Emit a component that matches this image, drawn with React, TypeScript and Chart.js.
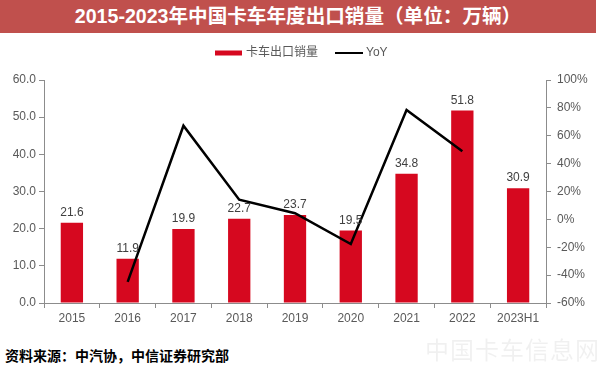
import React, { useEffect, useRef } from "react";
import { Chart, registerables } from "chart.js";

Chart.register(...registerables);

const categories = ["2015", "2016", "2017", "2018", "2019", "2020", "2021", "2022", "2023H1"];
const exportVolume = [21.6, 11.9, 19.9, 22.7, 23.7, 19.5, 34.8, 51.8, 30.9];
const yoy = [null, -44.9, 67.2, 14.1, 4.4, -17.7, 78.5, 48.9, null];
const leftTicks = { min: 0, max: 60, step: 10 };
const rightTicks = { min: -60, max: 100, step: 20 };

const FONT = "'Liberation Sans', Arial, 'Noto Sans CJK SC', sans-serif";
const BAR_COLOR = "#D6081F";
const TICK_COLOR = "#595959";
const AXIS_COLOR = "#8c8c8c";

const labelPlugin = {
  id: "barLabels",
  afterDatasetsDraw(chart: any) {
    const ctx = chart.ctx;
    const meta = chart.getDatasetMeta(0);
    ctx.save();
    ctx.font = `12px ${FONT}`;
    ctx.fillStyle = "#404040";
    ctx.textAlign = "center";
    ctx.textBaseline = "bottom";
    meta.data.forEach((bar: any, i: number) => {
      ctx.fillText(exportVolume[i].toFixed(1), bar.x, bar.y - 4);
    });
    ctx.restore();
  },
};

const legendPlugin = {
  id: "customLegend",
  afterDraw(chart: any) {
    const ctx = chart.ctx;
    ctx.save();
    const y = 20;
    ctx.fillStyle = BAR_COLOR;
    ctx.fillRect(215, y - 2.5, 27, 5);
    ctx.font = `12px ${FONT}`;
    ctx.fillStyle = TICK_COLOR;
    ctx.textBaseline = "middle";
    ctx.textAlign = "left";
    ctx.fillText(chart.data.datasets[0].label, 246, y);
    ctx.strokeStyle = "#000";
    ctx.lineWidth = 2;
    ctx.beginPath();
    ctx.moveTo(335, y);
    ctx.lineTo(363, y);
    ctx.stroke();
    ctx.fillText(chart.data.datasets[1].label, 366, y);
    ctx.restore();
  },
};

export default function App() {
  const ref = useRef<HTMLCanvasElement>(null);

  useEffect(() => {
    if (!ref.current) return;
    const chart = new Chart(ref.current, {
      type: "bar",
      data: {
        labels: categories,
        datasets: [
          {
            type: "bar",
            label: "卡车出口销量",
            data: exportVolume,
            backgroundColor: BAR_COLOR,
            yAxisID: "y",
            barPercentage: 0.8,
            categoryPercentage: 0.5,
            order: 2,
          },
          {
            type: "line",
            label: "YoY",
            data: yoy as any,
            borderColor: "#000",
            backgroundColor: "#000",
            borderWidth: 2.5,
            pointRadius: 0,
            tension: 0,
            yAxisID: "y1",
            order: 1,
          },
        ],
      },
      options: {
        responsive: false,
        animation: false,
        layout: { padding: { top: 47, left: 0, right: 0, bottom: 0 } },
        plugins: {
          legend: { display: false },
          tooltip: { enabled: false },
        },
        scales: {
          x: {
            grid: { display: true, drawOnChartArea: false, drawTicks: true, tickLength: 5, color: AXIS_COLOR, offset: true },
            border: { color: AXIS_COLOR, width: 1 },
            ticks: { color: TICK_COLOR, font: { size: 12, family: FONT }, padding: 3, maxRotation: 0, autoSkip: false },
            afterFit: (s: any) => { s.height = 37; },
          },
          y: {
            position: "left",
            min: leftTicks.min,
            max: leftTicks.max,
            grid: { display: true, drawOnChartArea: false, drawTicks: true, tickLength: 5, color: AXIS_COLOR },
            border: { color: AXIS_COLOR, width: 1 },
            ticks: {
              stepSize: leftTicks.step,
              color: TICK_COLOR,
              font: { size: 12, family: FONT },
              padding: 3,
              callback: (v: any) => Number(v).toFixed(1),
            },
            afterFit: (s: any) => { s.width = 44; },
          },
          y1: {
            position: "right",
            min: rightTicks.min,
            max: rightTicks.max,
            grid: { display: true, drawOnChartArea: false, drawTicks: true, tickLength: 5, color: AXIS_COLOR },
            border: { color: AXIS_COLOR, width: 1 },
            ticks: {
              stepSize: rightTicks.step,
              color: TICK_COLOR,
              font: { size: 12, family: FONT },
              padding: 6,
              callback: (v: any) => `${v}%`,
            },
            afterFit: (s: any) => { s.width = 54; },
          },
        },
      },
      plugins: [labelPlugin, legendPlugin],
    });
    return () => chart.destroy();
  }, []);

  return (
    <div style={{ position: "absolute", left: 0, top: 0, width: 600, height: 368, background: "#fff", overflow: "hidden" }}>
      <div
        style={{
          position: "absolute",
          left: 0,
          top: 0,
          width: 596,
          height: 33,
          background: "#C0504D",
          color: "#fff",
          textAlign: "center",
          fontFamily: FONT,
          fontWeight: "bold",
          fontSize: 19.6,
          lineHeight: "33px",
        }}
      >
        2015-2023年中国卡车年度出口销量（单位：万辆）
      </div>
      <div style={{ position: "absolute", left: 0, top: 33, width: 600, height: 307 }}>
        <canvas ref={ref} width={600} height={307} />
      </div>
      <div
        style={{
          position: "absolute",
          left: 5,
          top: 345,
          fontFamily: "'Noto Sans CJK SC', sans-serif",
          fontWeight: "bold",
          fontSize: 14,
          lineHeight: "20px",
          color: "#000",
        }}
      >
        资料来源：中汽协，中信证券研究部
      </div>
      <div
        style={{
          position: "absolute",
          left: 425,
          top: 334,
          fontFamily: "'Noto Sans CJK SC', sans-serif",
          fontSize: 24,
          lineHeight: "30px",
          color: "rgba(0,0,0,0.06)",
          letterSpacing: 1,
        }}
      >
        中国卡车信息网
      </div>
    </div>
  );
}
